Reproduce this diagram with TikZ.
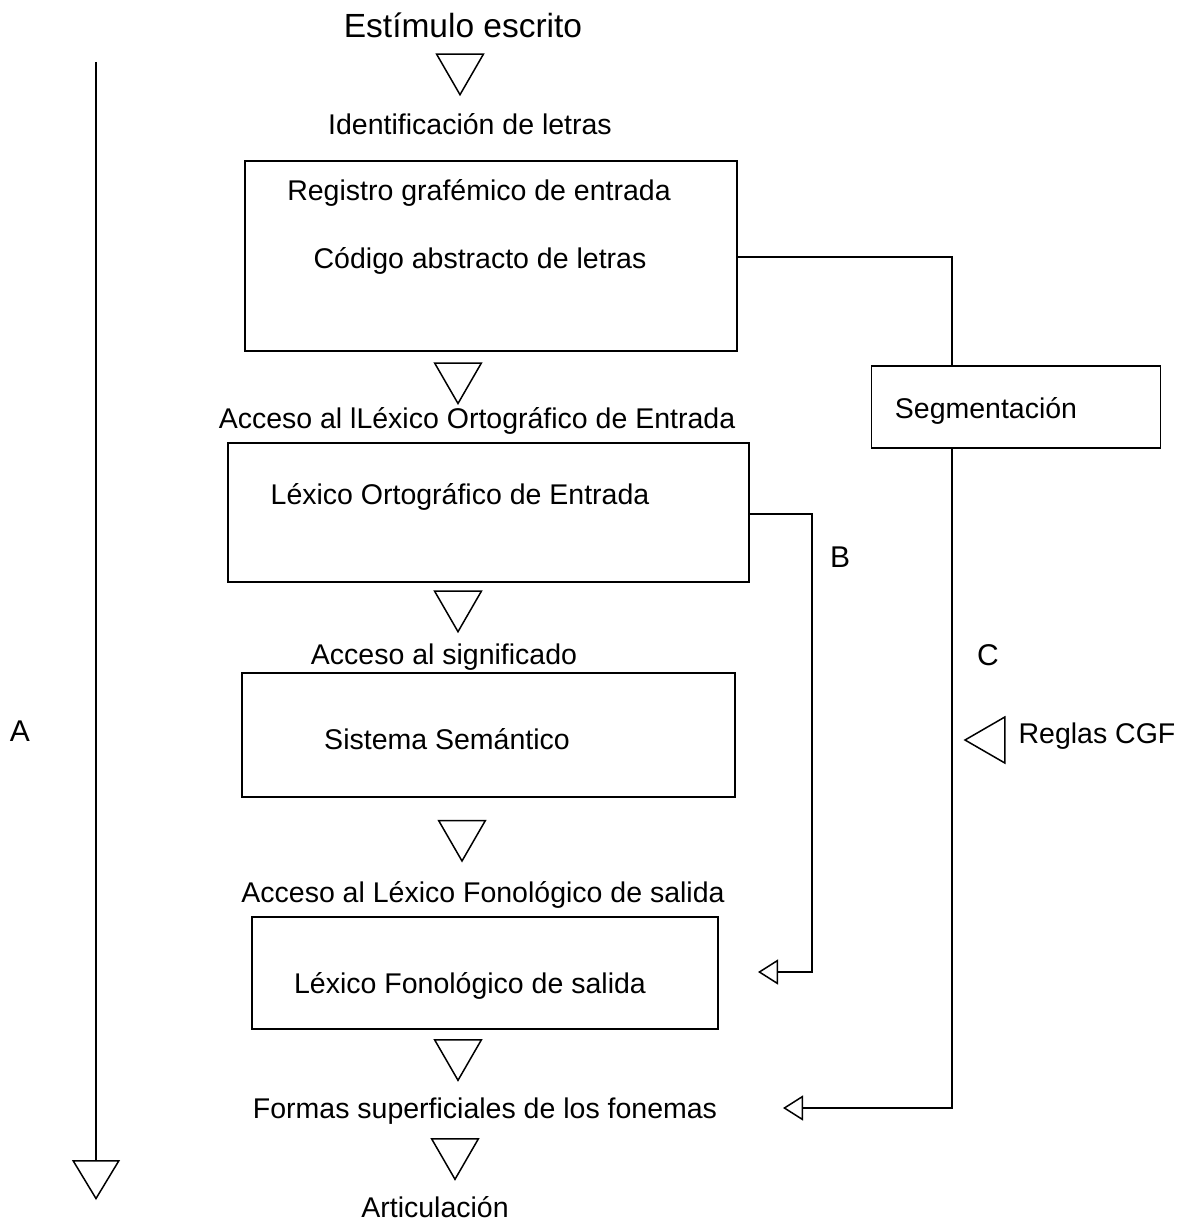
\documentclass[tikz,border=0pt]{standalone}
\usepackage{fontspec}
\setmainfont{Liberation Sans}
\usetikzlibrary{shapes.geometric,arrows.meta,calc}
\begin{document}
\begin{tikzpicture}[x=1pt,y=-1pt,
  lw/.style={line width=1.5pt},
  txt/.style={inner sep=0pt,font=\fontsize{28.5}{30}\selectfont},
  big/.style={inner sep=0pt,font=\fontsize{33.5}{36}\selectfont},
  letter/.style={inner sep=0pt,font=\fontsize{30}{32}\selectfont},
  box/.style={draw,lw,rectangle,inner sep=0pt},
  tri/.style={draw,lw,regular polygon,regular polygon sides=3,inner sep=0pt,minimum size=54pt},
  dtri/.style={tri,shape border rotate=180},
  ltri/.style={tri,shape border rotate=90,minimum size=53pt},
  opentip/.style={-{Triangle[open,length=20pt,width=25pt,line width=1.5pt]}},
]
\useasboundingbox (0,0) rectangle (1186,1222);

% boxes
\node[box,minimum width=492pt,minimum height=190pt] (box1) at (491,256) {};
\node[box,minimum width=521pt,minimum height=139pt] (box2) at (488.5,512.5) {};
\node[box,minimum width=493pt,minimum height=124pt] (box3) at (488.5,735) {};
\node[box,minimum width=466pt,minimum height=112pt] (box4) at (485,973) {};
\node[box,minimum width=289pt,minimum height=82pt] (seg) at (1016,407) {};

% texts
\node[big] (est) at (463,25) {Estímulo escrito};
\node[txt,anchor=base] (ident) at (470,135) {Identificación de letras};
\node[txt,anchor=base] (reg) at (479,201) {Registro grafémico de entrada};
\node[txt] (cod) at (480,261) {Código abstracto de letras};
\node[txt] (seglbl) at (986,411) {Segmentación};
\node[txt] (acc1) at (477,421) {Acceso al lLéxico Ortográfico de Entrada};
\node[txt] (lex1) at (460,497) {Léxico Ortográfico de Entrada};
\node[txt] (acc2) at (444,657) {Acceso al significado};
\node[txt] (sem) at (447,739) {Sistema Semántico};
\node[txt] (acc3) at (483,895) {Acceso al Léxico Fonológico de salida};
\node[txt] (lex2) at (470,986) {Léxico Fonológico de salida};
\node[txt] (formas) at (485,1111) {Formas superficiales de los fonemas};
\node[txt,anchor=base] (art) at (435,1217) {Articulación};
\node[txt] (reglas) at (1097,736) {Reglas CGF};
\node[letter] (A) at (20,731) {A};
\node[letter] (B) at (840,557) {B};
\node[letter] (C) at (988,655) {C};

% standalone triangles
\node[dtri] (t1) at (460,67.7) {};
\node[dtri] (t2) at (458,376.5) {};
\node[dtri] (t3) at (458,604.7) {};
\node[dtri] (t4) at (462,834) {};
\node[dtri] (t5) at (458,1053.3) {};
\node[dtri] (t6) at (455,1152.3) {};
\node[ltri] (t7) at (991.5,740) {};

% route A
\coordinate (a0) at (96,62);
\coordinate (a1) at (96,1200);
\draw[lw,-{Triangle[open,length=40pt,width=48pt,line width=1.5pt]}] (a0) -- (a1);

% route B
\coordinate (bx) at (812,0);
\coordinate (bend) at (758,972);
\draw[lw,opentip] (box2.east |- 0,514) -| (bx |- bend) -- (bend);

% route C
\coordinate (cx) at (952,0);
\coordinate (cend) at (783,1108);
\draw[lw] (box1.east |- 0,257) -| (cx |- seg.north);
\draw[lw,opentip] (cx |- seg.south) -- (cx |- cend) -- (cend);
\end{tikzpicture}
\end{document}
